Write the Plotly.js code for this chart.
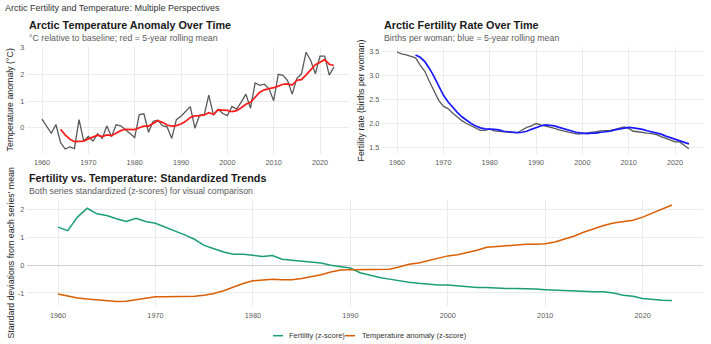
<!DOCTYPE html>
<html>
<head>
<meta charset="utf-8">
<script src="https://cdn.plot.ly/plotly-3.0.1.min.js"></script>
<style>
  html, body { margin: 0; padding: 0; background: #ffffff; }
  #chart { width: 711px; height: 344px; }
</style>
</head>
<body>
<div id="chart"></div>
<script>
// ---- Data -------------------------------------------------------------
const years = [
  1960, 1961, 1962, 1963, 1964, 1965, 1966, 1967, 1968, 1969,
  1970, 1971, 1972, 1973, 1974, 1975, 1976, 1977, 1978, 1979,
  1980, 1981, 1982, 1983, 1984, 1985, 1986, 1987, 1988, 1989,
  1990, 1991, 1992, 1993, 1994, 1995, 1996, 1997, 1998, 1999,
  2000, 2001, 2002, 2003, 2004, 2005, 2006, 2007, 2008, 2009,
  2010, 2011, 2012, 2013, 2014, 2015, 2016, 2017, 2018, 2019,
  2020, 2021, 2022, 2023
];

// Annual temperature anomaly (°C)
const tempAnomaly = [
  0.32, 0.06, -0.21, 0.12, -0.55, -0.80, -0.72, -0.78, 0.30, -0.50,
  -0.33, -0.50, -0.23, -0.40, 0.06, -0.34, 0.11, 0.07, -0.09, -0.22,
  -0.37, 0.49, 0.52, -0.17, 0.24, 0.28, 0.08, 0.03, -0.40, 0.30,
  0.43, 0.62, 0.79, -0.02, 0.47, 0.47, 1.22, 0.47, 0.69, 0.53,
  0.45, 0.80, 0.70, 0.96, 1.26, 0.73, 1.68, 1.59, 1.63, 1.46,
  1.01, 2.00, 1.96, 1.77, 1.26, 1.85, 2.02, 2.83, 2.52, 2.02,
  2.68, 2.68, 1.97, 2.27
];

// 5-year rolling mean of the temperature anomaly (first value in 1964)
const tempRollYears = years.slice(4);
const tempRolling = [
  -0.06, -0.27, -0.43, -0.52, -0.51, -0.50, -0.42, -0.35, -0.28, -0.33,
  -0.27, -0.30, -0.19, -0.11, -0.06, -0.06, -0.07, 0.00, 0.06, 0.06,
  0.15, 0.26, 0.20, 0.10, 0.06, 0.08, 0.14, 0.24, 0.38, 0.44,
  0.45, 0.48, 0.56, 0.50, 0.67, 0.67, 0.65, 0.60, 0.64, 0.75,
  0.88, 0.95, 1.15, 1.33, 1.42, 1.45, 1.50, 1.56, 1.63, 1.64,
  1.60, 1.78, 1.80, 1.98, 2.18, 2.36, 2.45, 2.55, 2.38, 2.33
];

// Fertility rate (births per woman)
const fertility = [
  3.48, 3.44, 3.42, 3.39, 3.36, 3.21, 3.08, 2.87, 2.66, 2.48,
  2.36, 2.31, 2.22, 2.13, 2.06, 2.00, 1.95, 1.90, 1.86, 1.86,
  1.89, 1.85, 1.84, 1.82, 1.81, 1.81, 1.81, 1.86, 1.92, 1.95,
  2.00, 1.97, 1.95, 1.92, 1.90, 1.87, 1.84, 1.82, 1.80, 1.78,
  1.79, 1.80, 1.81, 1.83, 1.85, 1.85, 1.86, 1.88, 1.91, 1.93,
  1.90, 1.84, 1.83, 1.81, 1.80, 1.79, 1.77, 1.73, 1.69, 1.66,
  1.62, 1.62, 1.54, 1.48
];

// 5-year rolling mean of the fertility rate (first value in 1964)
const fertRollYears = years.slice(4);
const fertRolling = [
  3.42, 3.37, 3.28, 3.14, 2.97, 2.78, 2.59, 2.45, 2.33, 2.23,
  2.14, 2.07, 2.00, 1.95, 1.91, 1.89, 1.89, 1.88, 1.87, 1.84,
  1.83, 1.82, 1.81, 1.82, 1.84, 1.88, 1.92, 1.95, 1.97, 1.96,
  1.95, 1.92, 1.89, 1.87, 1.84, 1.81, 1.80, 1.79, 1.80, 1.80,
  1.82, 1.83, 1.84, 1.87, 1.89, 1.91, 1.92, 1.91, 1.90, 1.88,
  1.85, 1.83, 1.81, 1.78, 1.74, 1.71, 1.67, 1.64, 1.61, 1.58
];

// Standardized series (z-scores)
const fertilityZ = [
  1.38, 1.25, 1.74, 2.06, 1.86, 1.80, 1.68, 1.58, 1.70, 1.58,
  1.52, 1.38, 1.25, 1.10, 0.94, 0.72, 0.60, 0.48, 0.40, 0.40,
  0.36, 0.32, 0.35, 0.22, 0.18, 0.14, 0.12, 0.08, 0.00, -0.05,
  -0.10, -0.27, -0.36, -0.44, -0.50, -0.56, -0.61, -0.65, -0.68, -0.71,
  -0.71, -0.74, -0.78, -0.80, -0.80, -0.83, -0.84, -0.84, -0.84, -0.86,
  -0.88, -0.90, -0.90, -0.94, -0.95, -0.96, -0.96, -1.00, -1.08, -1.12,
  -1.20, -1.24, -1.26, -1.27
];
const temperatureZ = [
  -1.04, -1.12, -1.18, -1.22, -1.25, -1.28, -1.31, -1.30, -1.24, -1.20,
  -1.14, -1.14, -1.14, -1.14, -1.12, -1.08, -1.02, -0.92, -0.78, -0.66,
  -0.56, -0.53, -0.50, -0.52, -0.52, -0.48, -0.42, -0.34, -0.24, -0.17,
  -0.16, -0.16, -0.16, -0.16, -0.14, -0.06, 0.04, 0.08, 0.16, 0.24,
  0.34, 0.38, 0.46, 0.54, 0.65, 0.68, 0.70, 0.72, 0.76, 0.76,
  0.78, 0.84, 0.94, 1.06, 1.20, 1.32, 1.44, 1.53, 1.59, 1.63,
  1.74, 1.88, 2.04, 2.18
];

// Axis ticks
const yearTicks = [1960, 1970, 1980, 1990, 2000, 2010, 2020];
const tempTicks = [0, 1, 2, 3];
const fertTicks = [1.5, 2.0, 2.5, 3.0, 3.5];
const fertTickText = ['1.5', '2.0', '2.5', '3.0', '3.5'];
const zTicks = [-1, 0, 1, 2];
const zTickText = ['-1', '0', '1', '2'];

// Legend entries for the standardized panel
const legendNames = ['Fertility (z-score)', 'Temperature anomaly (z-score)'];

// ---- Styling ----------------------------------------------------------
const W = 711, H = 344;
const FONT = '"Liberation Sans", Arial, Helvetica, sans-serif';
const GRID = '#ebebeb';
const TICKFONT = { family: FONT, size: 7.3, color: '#5a5a5a' };
const RAW_LINE = 'rgba(60,60,60,0.85)';
const RED = '#ff1a1a';
const BLUE = '#1a1aff';
const GREEN = '#1b9e77';
const ORANGE = '#d95f02';

// pixel helpers for paper coordinates
const px = v => v / W;
const py = v => 1 - v / H;

const traces = [
  { x: years, y: tempAnomaly, xaxis: 'x', yaxis: 'y', type: 'scatter', mode: 'lines',
    line: { color: RAW_LINE, width: 1.3 }, showlegend: false },
  { x: tempRollYears, y: tempRolling, xaxis: 'x', yaxis: 'y', type: 'scatter', mode: 'lines',
    line: { color: RED, width: 1.7 }, showlegend: false },
  { x: years, y: fertility, xaxis: 'x2', yaxis: 'y2', type: 'scatter', mode: 'lines',
    line: { color: RAW_LINE, width: 1.3 }, showlegend: false },
  { x: fertRollYears, y: fertRolling, xaxis: 'x2', yaxis: 'y2', type: 'scatter', mode: 'lines',
    line: { color: BLUE, width: 1.7 }, showlegend: false },
  { x: years, y: fertilityZ, xaxis: 'x3', yaxis: 'y3', type: 'scatter', mode: 'lines',
    name: legendNames[0], line: { color: GREEN, width: 1.5 }, showlegend: false },
  { x: years, y: temperatureZ, xaxis: 'x3', yaxis: 'y3', type: 'scatter', mode: 'lines',
    name: legendNames[1], line: { color: ORANGE, width: 1.5 }, showlegend: false }
];

function xAxis(domain, anchor) {
  return {
    domain: domain, anchor: anchor, range: [1956.85, 2026.15],
    tickvals: yearTicks, tickfont: TICKFONT, ticklabelstandoff: 3,
    showgrid: true, gridcolor: GRID, gridwidth: 1,
    zeroline: false, showline: false, ticks: '', fixedrange: true
  };
}
function yAxis(domain, anchor, range, vals, text) {
  const a = {
    domain: domain, anchor: anchor, range: range,
    tickvals: vals, tickfont: TICKFONT, ticklabelstandoff: 2,
    showgrid: true, gridcolor: GRID, gridwidth: 1,
    zeroline: false, showline: false, ticks: '', fixedrange: true
  };
  if (text) a.ticktext = text;
  return a;
}

const topDomain = [py(153.6), py(47.2)];
const botDomain = [py(306.4), py(200.1)];

function label(text, x, y, opts) {
  return Object.assign({
    text: text, xref: 'paper', yref: 'paper', x: px(x), y: py(y),
    xanchor: 'left', yanchor: 'middle', showarrow: false,
    font: { family: FONT, size: 9, color: '#222' }
  }, opts || {});
}

const titleFont = { family: FONT, size: 10.8, color: '#1a1a1a' };
const subFont = { family: FONT, size: 8.8, color: '#5c5c5c' };
const axTitleFont = { family: FONT, size: 8.8, color: '#222' };
const legendFont = { family: FONT, size: 7.5, color: '#333' };

const annotations = [
  label('<b>Arctic Temperature Anomaly Over Time</b>', 27, 25, { font: titleFont }),
  label('°C relative to baseline; red = 5-year rolling mean', 27, 37.7, { font: subFont }),
  label('<b>Arctic Fertility Rate Over Time</b>', 381.7, 25, { font: titleFont }),
  label('Births per woman; blue = 5-year rolling mean', 381.7, 37.7, { font: subFont }),
  label('<b>Fertility vs. Temperature: Standardized Trends</b>', 27, 177.7, { font: titleFont }),
  label('Both series standardized (z-scores) for visual comparison', 27, 190.7, { font: subFont }),
  label('Temperature anomaly (°C)', 10, 100.4, { xanchor: 'center', textangle: -90, font: axTitleFont }),
  label('Fertility rate (births per woman)', 361, 100.4, { xanchor: 'center', textangle: -90, font: axTitleFont }),
  label("Standard deviations from each series' mean", 10, 253.5, { xanchor: 'center', textangle: -90, font: axTitleFont }),
  // legend labels
  label(legendNames[0], 286.5, 335.7, { font: legendFont }),
  label(legendNames[1], 359.5, 335.7, { font: legendFont })
];

// legend keys
const shapes = [
  { type: 'line', xref: 'paper', yref: 'paper', x0: px(273), x1: px(283), y0: py(335.7), y1: py(335.7),
    line: { color: GREEN, width: 1.5 } },
  { type: 'line', xref: 'paper', yref: 'paper', x0: px(345), x1: px(355), y0: py(335.7), y1: py(335.7),
    line: { color: ORANGE, width: 1.5 } }
];

const layout = {
  width: W, height: H,
  margin: { l: 0, r: 0, t: 0, b: 0, pad: 0 },
  paper_bgcolor: '#ffffff', plot_bgcolor: '#ffffff',
  font: { family: FONT, color: '#333' },
  title: {
    text: 'Arctic Fertility and Temperature: Multiple Perspectives',
    xref: 'paper', yref: 'paper', x: px(5), xanchor: 'left',
    y: py(8), yanchor: 'middle',
    font: { family: FONT, size: 9, color: '#333' }
  },
  xaxis: xAxis([px(27.4), px(348.5)], 'y'),
  yaxis: yAxis(topDomain, 'x', [-0.971, 3.018], tempTicks),
  xaxis2: xAxis([px(382.4), px(703.5)], 'y2'),
  yaxis2: yAxis(topDomain, 'x2', [1.378, 3.579], fertTicks, fertTickText),
  xaxis3: xAxis([px(27.3), px(702.6)], 'y3'),
  yaxis3: Object.assign(yAxis(botDomain, 'x3', [-1.485, 2.355], zTicks, zTickText),
    { zeroline: true, zerolinecolor: '#d2d2d2', zerolinewidth: 1 }),
  showlegend: false,
  hovermode: false,
  annotations: annotations,
  shapes: shapes
};

Plotly.newPlot('chart', traces, layout, { displayModeBar: false, staticPlot: true });
</script>
</body>
</html>
